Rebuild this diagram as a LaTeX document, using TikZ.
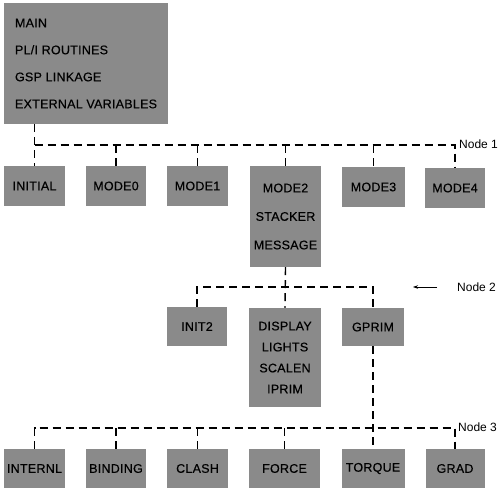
\documentclass[tikz,border=0pt]{standalone}
\usepackage{fontspec}
\setmainfont{Liberation Sans}
\newfontfamily\boxfont[FakeBold=0.4,LetterSpace=2]{Liberation Sans}
\usetikzlibrary{arrows.meta}
\definecolor{boxgray}{RGB}{138,138,138}
\tikzset{
  box/.style={draw=none, fill=boxgray, inner sep=0pt, align=center,
    font=\boxfont\fontsize{12.5}{14}\selectfont},
  conn/.style={line width=1.4pt, dash pattern=on 8pt off 5pt},
  lbl/.style={anchor=west, inner sep=0pt, font=\fontsize{12}{14}\selectfont},
}
\begin{document}
\begin{tikzpicture}[x=1pt,y=-1pt]
\useasboundingbox (0,0) rectangle (500,492);
% main
\node[box, minimum width=164pt, minimum height=121pt, align=left,
  font=\boxfont\fontsize{12.5}{27}\selectfont] (main) at (86,63.5)
  {MAIN\\PL/I ROUTINES\\GSP LINKAGE\\EXTERNAL VARIABLES};
% row 1
\node[box, minimum width=61pt, minimum height=40pt] (initial) at (34.5,186) {INITIAL};
\node[box, minimum width=60pt, minimum height=40pt] (mode0) at (116,186) {MODE0};
\node[box, minimum width=61pt, minimum height=40pt] (mode1) at (197.5,186) {MODE1};
\node[box, minimum width=71pt, minimum height=101pt, font=\boxfont\fontsize{12.5}{28.5}\selectfont] (mode2) at (285.5,216.5) {MODE2\\STACKER\\MESSAGE};
\node[box, minimum width=63pt, minimum height=40pt] (mode3) at (373.5,187) {MODE3};
\node[box, minimum width=60pt, minimum height=40pt] (mode4) at (455,188) {MODE4};
% row 2
\node[box, minimum width=60pt, minimum height=39pt] (init2) at (197,326.5) {INIT2};
\node[box, minimum width=72pt, minimum height=99pt, font=\boxfont\fontsize{12.5}{21}\selectfont] (display) at (285,357.5) {DISPLAY\\LIGHTS\\SCALEN\\IPRIM};
\node[box, minimum width=62pt, minimum height=38pt] (gprim) at (373,327) {GPRIM};
% row 3
\node[box, minimum width=61pt, minimum height=39pt] (internl) at (34.5,468.5) {INTERNL};
\node[box, minimum width=60pt, minimum height=39pt] (binding) at (116,468.5) {BINDING};
\node[box, minimum width=61pt, minimum height=39pt] (clash) at (197.5,468.5) {CLASH};
\node[box, minimum width=71pt, minimum height=39pt] (force) at (284.5,468.5) {FORCE};
\node[box, minimum width=63pt, minimum height=39pt] (torque) at (373,468.5) {TORQUE};
\node[box, minimum width=59pt, minimum height=39pt] (grad) at (455,468.5) {GRAD};
% levels
\coordinate (h1) at (0,145);
\coordinate (h2) at (0,287);
\coordinate (h3) at (0,428);
% node 1
\draw[conn] (main.south -| initial.north) -- (initial.north);
\draw[conn] (initial.north |- h1) -| (mode4.north);
\foreach \n in {mode0,mode1,mode2,mode3}
  \draw[conn] (\n.north |- h1) -- (\n.north);
\node[lbl] (lab1) at (459,144) {Node 1};
% node 2
\draw[conn] (mode2.south) -- (display.north);
\draw[conn] (init2.north) |- (gprim.north |- h2) -- (gprim.north);
\node[lbl] (lab2) at (457,287) {Node 2};
\coordinate (a2tail) at (437,287);
\coordinate (a2head) at (413,287);
\draw[line width=0.6pt, -{Stealth[length=5pt,width=3.5pt]}] (a2tail) -- (a2head);
% node 3
\draw[conn] (gprim.south) -- (torque.north);
\draw[conn] (internl.north) |- (grad.north |- h3) -- (grad.north);
\foreach \n in {binding,clash,force}
  \draw[conn] (\n.north |- h3) -- (\n.north);
\node[lbl] (lab3) at (458,427) {Node 3};
\end{tikzpicture}
\end{document}
